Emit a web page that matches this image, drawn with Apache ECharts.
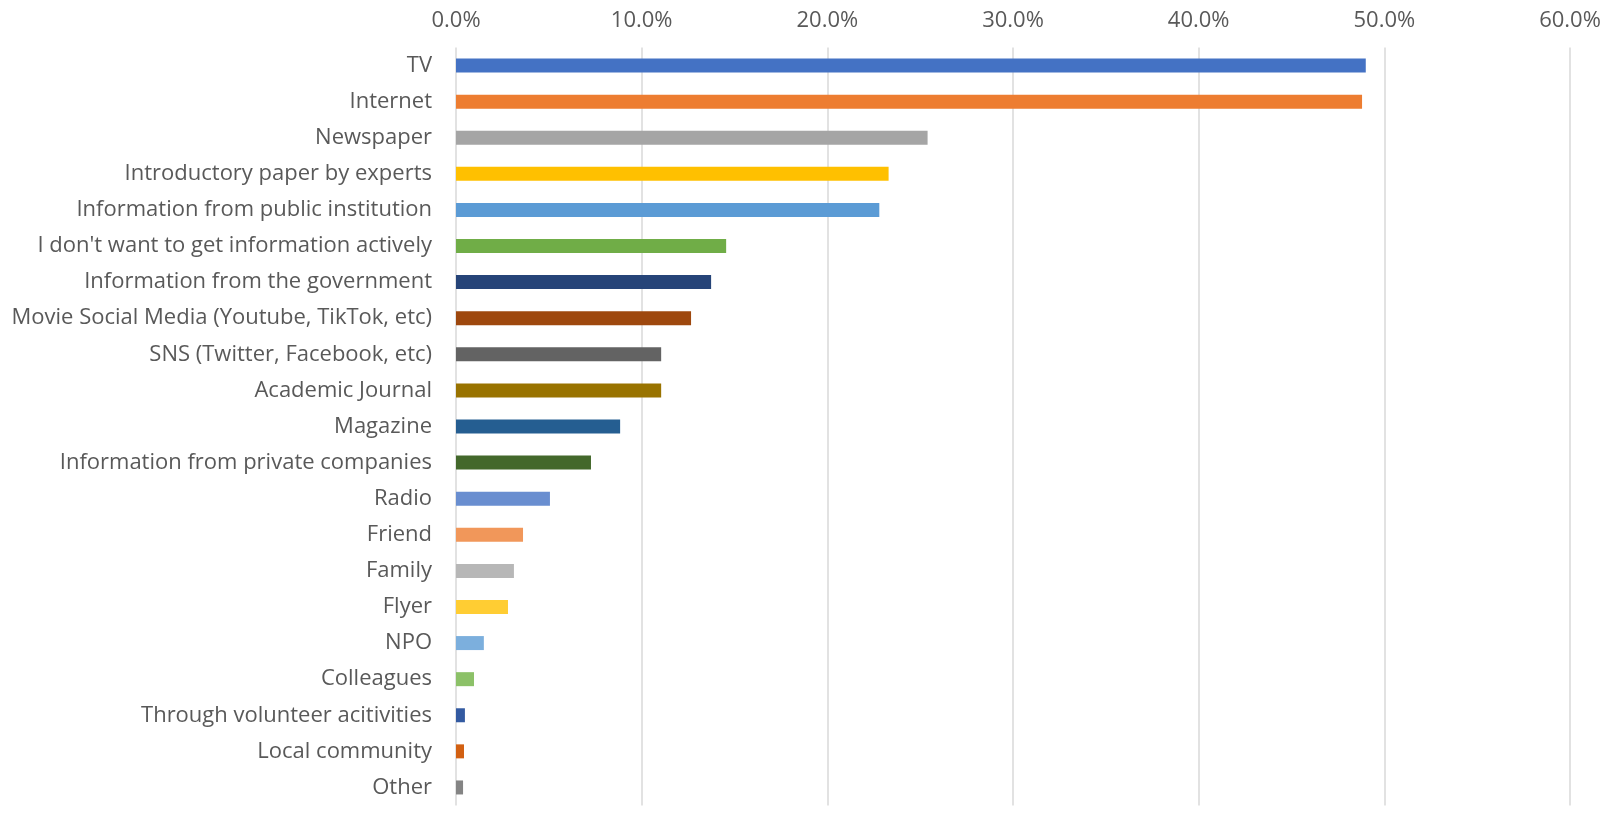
<!DOCTYPE html>
<html>
<head>
<meta charset="utf-8">
<script src="https://cdn.jsdelivr.net/npm/echarts@6/dist/echarts.min.js"></script>
<style>
html, body { margin: 0; padding: 0; background: #fff; }
#main { width: 1608px; height: 814px; }
</style>
</head>
<body>
<div id="main"></div>
<script>
var categories = ['TV', 'Internet', 'Newspaper', 'Introductory paper by experts',
    'Information from public institution', "I don't want to get information actively",
    'Information from the government', 'Movie Social Media (Youtube, TikTok, etc)',
    'SNS (Twitter, Facebook, etc)', 'Academic Journal', 'Magazine',
    'Information from private companies', 'Radio', 'Friend', 'Family', 'Flyer', 'NPO',
    'Colleagues', 'Through volunteer acitivities', 'Local community', 'Other'];
// 百分比
var values = [49.0, 48.8, 25.4, 23.3, 22.8, 14.55, 13.74, 12.66, 11.05, 11.05, 8.84,
    7.27, 5.06, 3.61, 3.12, 2.8, 1.5, 0.97, 0.48, 0.43, 0.38];
var barColors = ['#4472C4', '#ED7D31', '#A5A5A5', '#FFC000', '#5B9BD5', '#70AD47',
    '#264478', '#9E480E', '#636363', '#997300', '#255E91', '#43682B', '#698ED0',
    '#F1975A', '#B7B7B7', '#FFCD33', '#7CAFDD', '#8CC168', '#335AA1', '#D26012', '#848484'];

var chart = echarts.init(document.getElementById('main'));

var seriesData = [];
for (var i = 0; i < values.length; i++) {
    seriesData.push({ value: values[i], itemStyle: { color: barColors[i] } });
}

var option = {
    backgroundColor: '#fff',
    animation: false,
    grid: { left: 456, right: 38, top: 47.5, bottom: 8.5, containLabel: false },
    xAxis: {
        type: 'value',
        position: 'top',
        min: 0,
        max: 60,
        interval: 10,
        axisLine: { show: false },
        axisTick: { show: false },
        axisLabel: {
            margin: 16,
            color: '#595959',
            fontSize: 22,
            fontFamily: 'Open Sans',
            formatter: function (v) { return v.toFixed(1) + '%'; }
        },
        splitLine: { lineStyle: { color: '#d9d9d9', width: 1.5 } }
    },
    yAxis: {
        type: 'category',
        inverse: true,
        data: categories,
        axisLine: { show: false },
        axisTick: { show: false },
        axisLabel: {
            margin: 24,
            color: '#595959',
            fontSize: 22,
            fontFamily: 'Open Sans'
        }
    },
    series: [{
        type: 'bar',
        barWidth: 14,
        data: seriesData
    }]
};

chart.setOption(option);
</script>
</body>
</html>
